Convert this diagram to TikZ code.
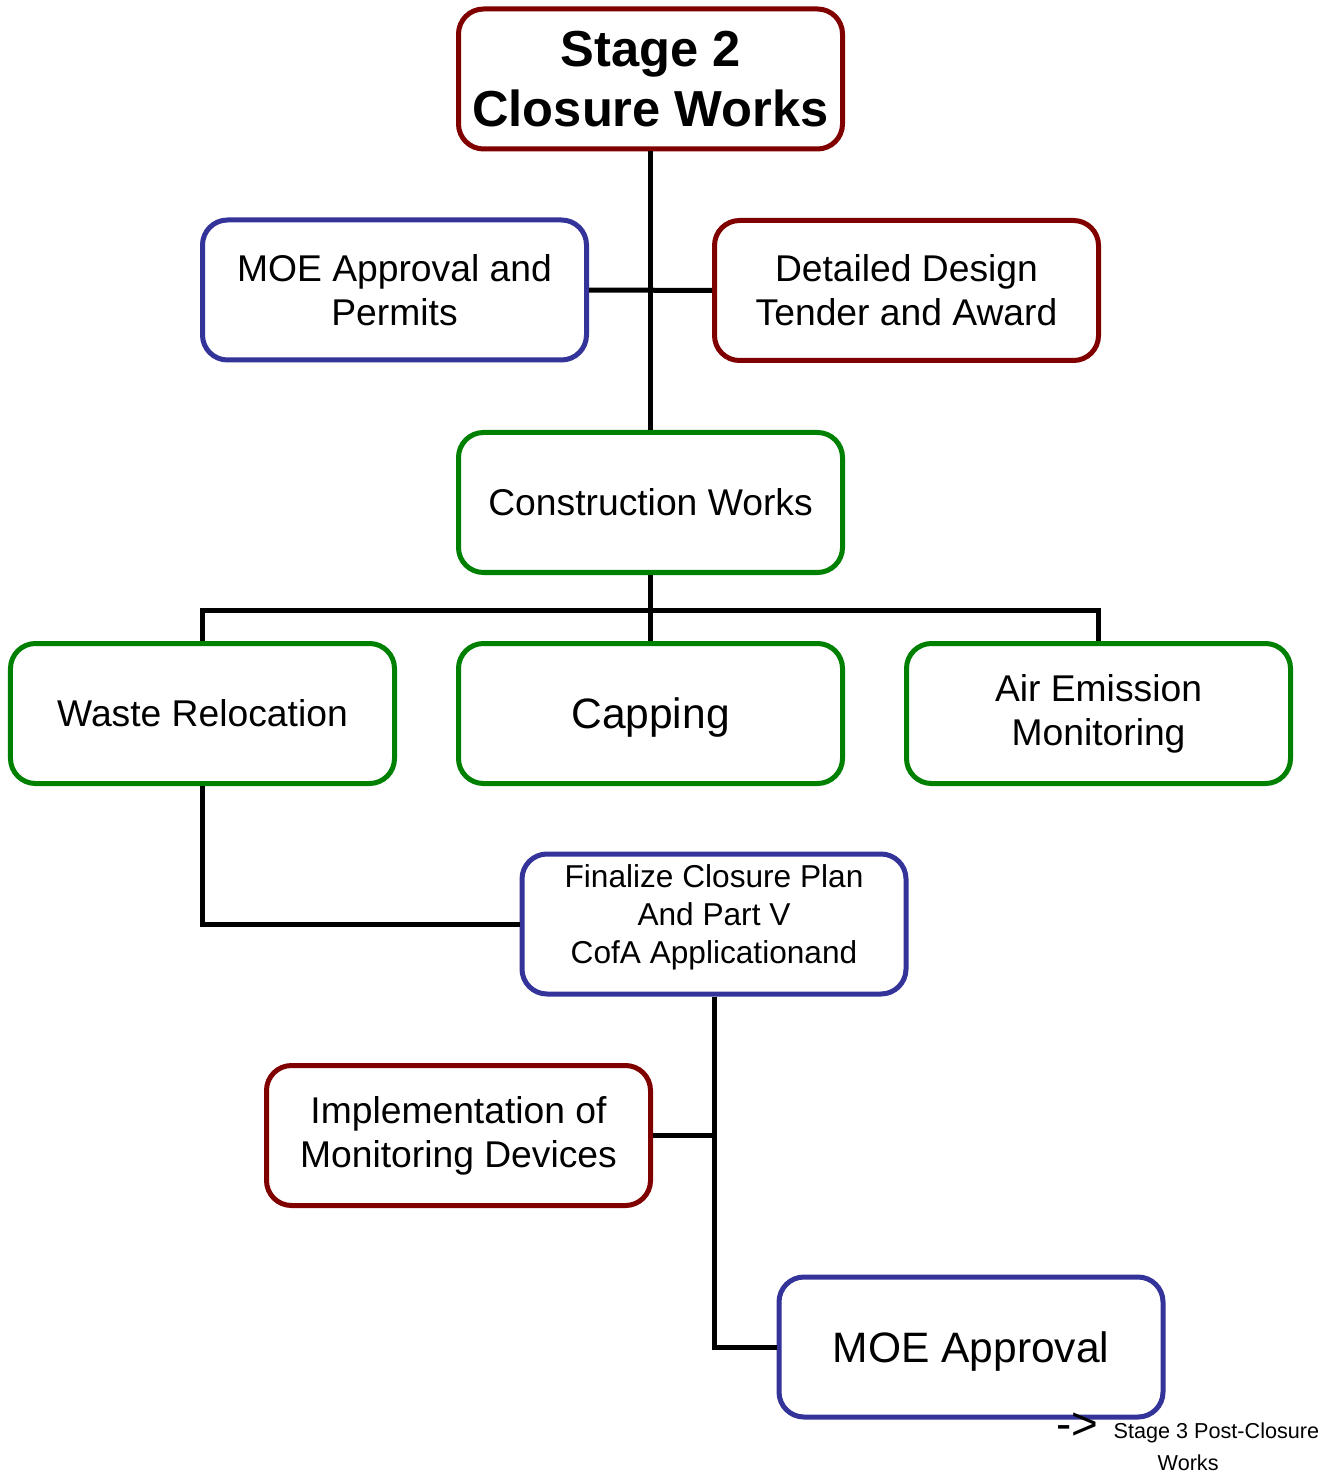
\documentclass[tikz,border=0pt]{standalone}
\usepackage{fontspec}
\setmainfont{Liberation Sans}
\usetikzlibrary{positioning}

\definecolor{darkred}{RGB}{128,0,0}
\definecolor{darkblue}{RGB}{51,51,153}
\definecolor{darkgreen}{RGB}{0,128,0}

\tikzset{
  box/.style={draw,rectangle,rounded corners=0.25cm,line width=0.05cm,
    minimum width=3.84cm,minimum height=1.40cm,align=center,inner sep=2pt,
    font=\fontsize{10.6}{12.5}\selectfont},
  redbox/.style={box,draw=darkred},
  bluebox/.style={box,draw=darkblue},
  greenbox/.style={box,draw=darkgreen},
  bigtext/.style={font=\fontsize{12.1}{14}\selectfont,text depth=0pt},
  link/.style={line width=0.05cm,black}
}

\begin{document}
\begin{tikzpicture}
	\useasboundingbox (0,0) rectangle (13.30,-14.73);
	\node[redbox,font=\fontsize{14.4}{17}\selectfont\bfseries] (stage) at (6.505,-0.79) {Stage 2\\Closure Works};
	\node[bluebox] (permits) at (3.945,-2.90) {MOE Approval and\\Permits};
	\node[redbox] (design) at (9.065,-2.905) {Detailed Design\\Tender and Award};
	\node[greenbox] (constr) at (6.505,-5.025) {Construction Works};
	\node[greenbox] (waste) at (2.025,-7.135) {Waste Relocation};
	\node[greenbox,bigtext] (capping) at (6.505,-7.135) {Capping};
	\node[greenbox] (air) at (10.985,-7.135) {Air Emission\\Monitoring};
	\node[bluebox,inner sep=0pt,font=\fontsize{9}{10.8}\selectfont] (final) at (7.14,-9.24) {Finalize Closure Plan\\And Part V\\CofA Applicationand\\[-5.1pt]\mbox{}};
	\node[redbox] (impl) at (4.585,-11.355) {Implementation of\\Monitoring Devices};
	\node[bluebox,bigtext] (moeapp) at (9.71,-13.47) {MOE Approval};
	\node[inner sep=0pt,font=\fontsize{13}{13}\selectfont] (arrow) at (10.77,-14.26) {->};
	\node[inner sep=0pt,align=left,anchor=west,font=\fontsize{6.15}{9.1}\selectfont] (next) at (11.13,-14.47) {Stage 3 Post-Closure\\\hspace*{0.44cm}Works};

	% trunk
	\draw[link] (stage) -- (constr);
	\draw[link] (permits) -- (design);
	\coordinate (bus) at (6.505,-6.10);
	\draw[link] (waste.north) |- (bus) -| (air.north);
	\draw[link] (constr) -- (capping);
	% lower branch
	\draw[link] (waste.south) |- (final.west);
	\draw[link] (final.south) |- (moeapp.west);
	\draw[link] (impl.east) -- (impl.east -| final.south);
\end{tikzpicture}
\end{document}
